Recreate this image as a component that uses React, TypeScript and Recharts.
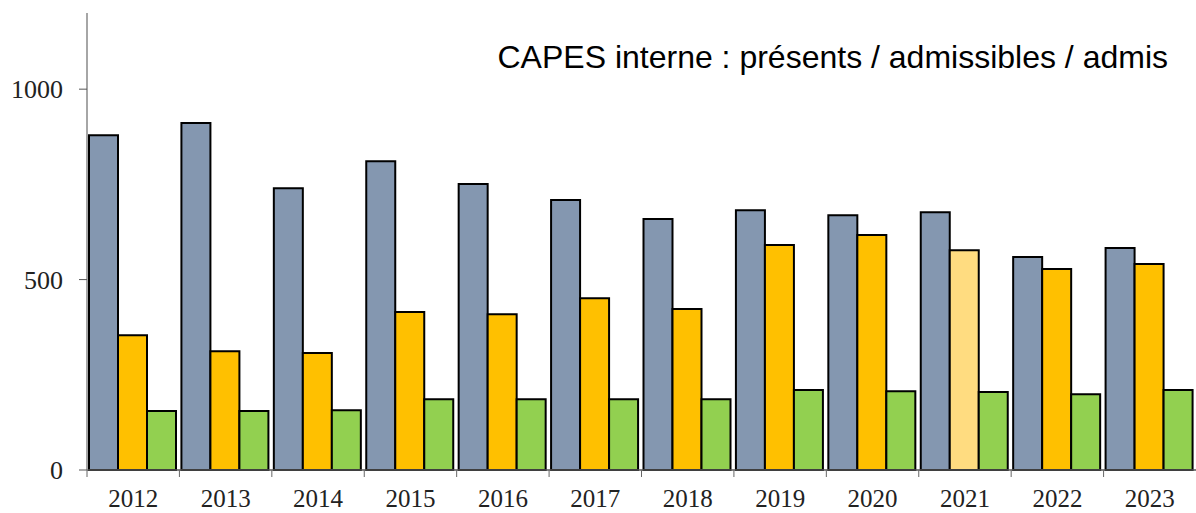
import React from "react";
import { Bar, BarChart, Cell, XAxis, YAxis } from "recharts";

const years = ["2012", "2013", "2014", "2015", "2016", "2017", "2018", "2019", "2020", "2021", "2022", "2023"];
const presents = [879, 911, 740, 811, 751, 709, 659, 682, 669, 677, 559, 583];
const admissibles = [354, 312, 307, 415, 409, 451, 423, 591, 617, 577, 528, 541];
const admis = [155, 155, 157, 186, 186, 186, 186, 210, 207, 205, 199, 210];
const yTicks = [0, 500, 1000];
const title = "CAPES interne : présents / admissibles / admis";

const W = 1196;
const H = 513;
const M = { top: 13, right: 0, bottom: 0, left: 0 };
const Y_W = 87;
const X_H = 43;
const BAND = (W - M.left - M.right - Y_W) / years.length;

const SERIF = "'Liberation Serif', 'DejaVu Serif', serif";

const data = years.map((y, i) => ({
  year: y,
  presents: presents[i],
  admissibles: admissibles[i],
  admis: admis[i],
}));

const XTick = (props: any) => {
  const { x, y, payload } = props;
  const left = x - BAND / 2;
  return (
    <g>
      <line x1={left} y1={y - 8} x2={left} y2={y - 1} stroke="#666" strokeWidth={1} />
      <text
        x={x}
        y={y + 29}
        textAnchor="middle"
        fontFamily={SERIF}
        fontSize={25}
        fill="#222"
      >
        {payload.value}
      </text>
    </g>
  );
};

export default function App() {
  return (
    <div style={{ position: "absolute", left: 0, top: 0, width: W, height: H, background: "#fff" }}>
      <BarChart width={W} height={H} data={data} margin={M} barCategoryGap={2} barGap={0}>
        <XAxis
          dataKey="year"
          height={X_H}
          axisLine={{ stroke: "#555", strokeWidth: 1.5 }}
          tickLine={false}
          tick={<XTick />}
          interval={0}
        />
        <YAxis
          width={Y_W}
          domain={[0, 1200]}
          ticks={yTicks}
          axisLine={{ stroke: "#888", strokeWidth: 1.5 }}
          tickLine={{ stroke: "#555" }}
          tickSize={8}
          tickMargin={16}
          tick={{ fontFamily: SERIF, fontSize: 26, fill: "#222" }}
        />
        <Bar dataKey="presents" fill="#8497B0" stroke="#000" strokeWidth={2} isAnimationActive={false} />
        <Bar dataKey="admissibles" fill="#FFC000" stroke="#000" strokeWidth={2} isAnimationActive={false}>
          {years.map((y) => (
            <Cell key={y} fill={y === "2021" ? "#FFDC80" : "#FFC000"} />
          ))}
        </Bar>
        <Bar dataKey="admis" fill="#92D050" stroke="#000" strokeWidth={2} isAnimationActive={false} />
      </BarChart>
      <div
        style={{
          position: "absolute",
          right: 28,
          top: 41,
          fontFamily: "'Liberation Sans', Arial, sans-serif",
          fontSize: 32,
          color: "#000",
          whiteSpace: "nowrap",
          lineHeight: 1,
        }}
      >
        {title}
      </div>
    </div>
  );
}
